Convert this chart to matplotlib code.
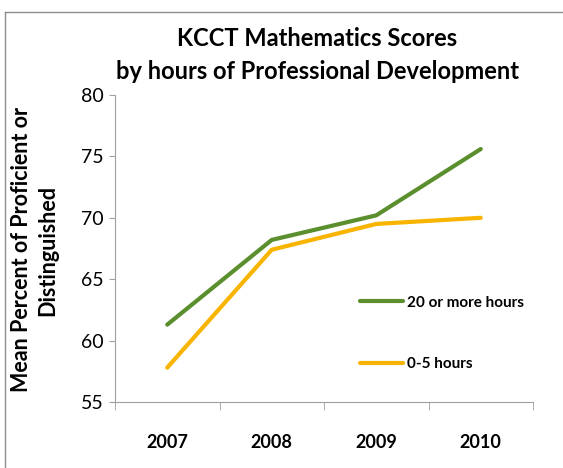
import matplotlib
matplotlib.use('Agg')
import matplotlib.pyplot as plt
from matplotlib.lines import Line2D

# data
years = ['2007', '2008', '2009', '2010']
pd_20plus = [61.3, 68.2, 70.2, 75.6]
pd_0to5 = [57.8, 67.4, 69.5, 70.0]

plt.rcParams['font.family'] = ['Lato', 'DejaVu Sans']

W, H = 563, 468
fig = plt.figure(figsize=(W/100, H/100), dpi=100)
ax = fig.add_axes([115/W, 1-402/H, (533-115)/W, (402-95)/H])

x = [i + 0.5 for i in range(len(years))]
ax.plot(x, pd_20plus, color='#5B8F2E', lw=3, solid_capstyle='round', label='20 or more hours')
ax.plot(x, pd_0to5, color='#F8B400', lw=3, solid_capstyle='round', label='0-5 hours')

ax.set_xlim(0, 4)
ax.set_ylim(55, 80)
ax.set_yticks([55, 60, 65, 70, 75, 80])
ax.set_xticks(x)
ax.set_xticklabels(years, fontsize=13, fontweight='bold')
ax.set_xticks(range(5), minor=True)
ax.tick_params(axis='x', which='major', length=0, pad=23)
ax.tick_params(axis='x', which='minor', length=6, color='#A0A0A0')
ax.tick_params(axis='y', length=4, color='#A0A0A0', labelsize=14, pad=4)
for s in ['top', 'right']:
    ax.spines[s].set_visible(False)
for s in ['left', 'bottom']:
    ax.spines[s].set_color('#A0A0A0')

fig.text(317/W, 1-55/H, 'KCCT Mathematics Scores\nby hours of Professional Development',
         ha='center', va='center', fontsize=17, fontweight='bold', linespacing=1.5)
fig.text(35/W, 1-250/H, 'Mean Percent of Proficient or\nDistinguished', rotation=90,
         ha='center', va='center', fontsize=15.5, fontweight='bold', multialignment='center',
         linespacing=1.3)

ax.legend(loc='center left', bbox_to_anchor=(360/W, 1-333.5/H), bbox_transform=fig.transFigure,
          frameon=False, borderpad=0, borderaxespad=0, handlelength=2.8, handletextpad=0.3,
          labelspacing=3.1, prop={'size': 11, 'weight': 'bold'})

# chart border
fig.add_artist(Line2D([5/W, 5/W], [0, 1-12/H], color='#8C8C8C', lw=1))
fig.add_artist(Line2D([5/W, 1], [1-12/H, 1-12/H], color='#8C8C8C', lw=1))

fig.savefig('out.png', dpi=100)
